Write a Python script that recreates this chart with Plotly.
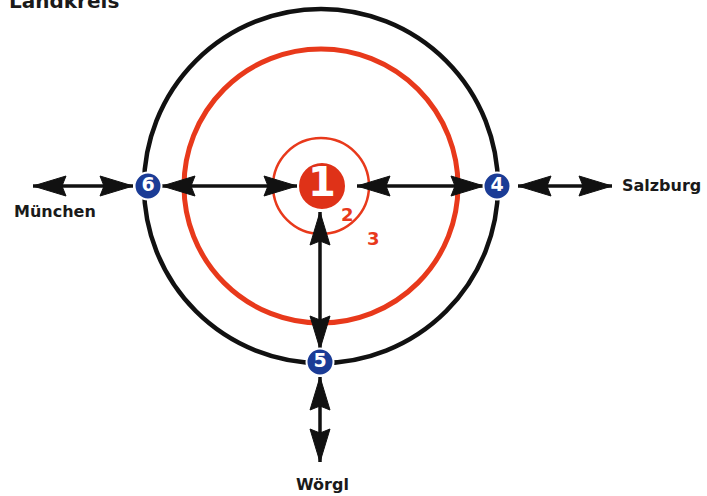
import math
import plotly.graph_objects as go

W, H = 707, 496

# ---- data ----
ring_radii = [177, 137, 48]
ring_colors = ["#111111", "#e8391b", "#e8391b"]
ring_widths = [4.5, 5, 2.5]
center = (321, 186)

node_labels = ["1", "4", "5", "6"]
node_x = [322, 497, 320, 148]
node_y = [186, 186, 362, 186]
node_size = [48, 27, 27, 27]
node_fill = ["#df3218", "#1b3c96", "#1b3c96", "#1b3c96"]
node_font = [40, 19, 19, 19]

# double-headed arrows: (x0, y0) <-> (x1, y1)
arrow_x0 = [33, 162, 357, 518, 320, 320]
arrow_y0 = [186, 186, 186, 186, 212, 377]
arrow_x1 = [133, 297, 484, 612, 320, 320]
arrow_y1 = [186, 186, 186, 186, 349, 462]

place_labels = ["München", "Salzburg", "Wörgl"]
place_x = [55, 661, 322]
place_y = [211, 185, 484]

title_text = "Landkreis"
title_x = 7
title_y = 15

ring_labels = ["2", "3"]
ring_label_x = [347, 373]
ring_label_y = [214, 238]

HEAD_LEN = 33
HEAD_HALF = 10

fig = go.Figure()
shapes = []

for r, c, w in zip(ring_radii, ring_colors, ring_widths):
    shapes.append(dict(type="circle", xref="x", yref="y", layer="below",
                       x0=center[0] - r, x1=center[0] + r,
                       y0=center[1] - r, y1=center[1] + r,
                       line=dict(color=c, width=w)))


def head(tx, ty, dx, dy):
    L = math.hypot(dx, dy)
    ux, uy = dx / L, dy / L
    bx, by = tx - ux * HEAD_LEN, ty - uy * HEAD_LEN
    px, py = -uy, ux
    return (f"M {tx},{ty} L {bx + px*HEAD_HALF},{by + py*HEAD_HALF} "
            f"L {bx + ux*4},{by + uy*4} "
            f"L {bx - px*HEAD_HALF},{by - py*HEAD_HALF} Z")


for x0, y0, x1, y1 in zip(arrow_x0, arrow_y0, arrow_x1, arrow_y1):
    shapes.append(dict(type="line", xref="x", yref="y", layer="below",
                       x0=x0, y0=y0, x1=x1, y1=y1,
                       line=dict(color="#111111", width=3.5)))
    shapes.append(dict(type="path", xref="x", yref="y", layer="below",
                       path=head(x1, y1, x1 - x0, y1 - y0),
                       fillcolor="#111111", line=dict(color="#111111", width=1)))
    shapes.append(dict(type="path", xref="x", yref="y", layer="below",
                       path=head(x0, y0, x0 - x1, y0 - y1),
                       fillcolor="#111111", line=dict(color="#111111", width=1)))

fig.add_trace(go.Scatter(
    x=node_x, y=node_y, mode="markers+text",
    marker=dict(size=node_size, color=node_fill, opacity=1,
                line=dict(color="white", width=2)),
    text=[f"<b>{t}</b>" for t in node_labels],
    textposition="middle center",
    textfont=dict(color="white", size=node_font, family="DejaVu Sans"),
    hoverinfo="skip", showlegend=False, cliponaxis=False))

annotations = []
for t, x, y in zip(place_labels, place_x, place_y):
    annotations.append(dict(x=x, y=y, xref="x", yref="y", text=f"<b>{t}</b>",
                            showarrow=False, xanchor="center", yanchor="middle",
                            font=dict(family="DejaVu Sans", size=16, color="#1a1a1a")))
annotations.append(dict(x=title_x, y=title_y, xref="x", yref="y",
                        text=f"<b>{title_text}</b>", showarrow=False,
                        xanchor="left", yanchor="bottom",
                        font=dict(family="DejaVu Sans", size=20, color="#1a1a1a")))
for t, x, y in zip(ring_labels, ring_label_x, ring_label_y):
    annotations.append(dict(x=x, y=y, xref="x", yref="y", text=f"<b>{t}</b>",
                            showarrow=False,
                            font=dict(family="DejaVu Sans", size=18, color="#e8391b")))

fig.update_layout(
    width=W, height=H, margin=dict(l=0, r=0, t=0, b=0),
    paper_bgcolor="white", plot_bgcolor="white",
    xaxis=dict(range=[0, W], visible=False, fixedrange=True),
    yaxis=dict(range=[H, 0], visible=False, fixedrange=True),
    shapes=shapes, annotations=annotations,
)

fig.write_html("out.html", config={"displayModeBar": False},
               post_script="document.body.style.margin='0px';document.body.style.overflow='hidden';")
